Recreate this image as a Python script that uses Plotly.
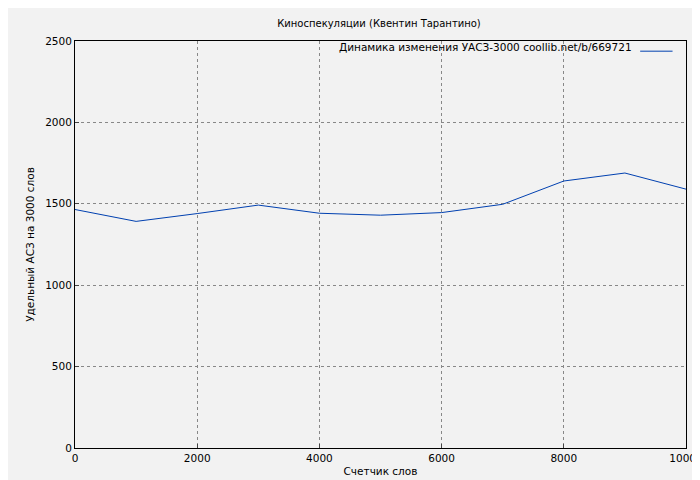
import plotly.graph_objects as go

x_words = [0, 1000, 2000, 3000, 4000, 5000, 6000, 7000, 8000, 9000, 10000]
y_uasz = [1465, 1392, 1440, 1492, 1442, 1430, 1446, 1497, 1640, 1689, 1590]
series_name = "Динамика изменения УАСЗ-3000 coollib.net/b/669721"

fig = go.Figure()
fig.add_trace(go.Scatter(x=x_words, y=y_uasz, mode="lines",
                         line=dict(color="#0040b0", width=1),
                         name=series_name, showlegend=False))
fig.update_layout(
    width=700, height=480,
    paper_bgcolor="#f2f2f2", plot_bgcolor="#f2f2f2",
    margin=dict(l=67, r=22, t=33, b=40, autoexpand=False),
    font=dict(family="DejaVu Sans", size=11, color="black"),
    title=dict(text="Киноспекуляции (Квентин Тарантино)", x=0.53, xanchor="center", y=0.975, font=dict(size=10)),
    showlegend=False,
)
fig.add_annotation(xref="paper", yref="paper", x=0.915, y=0.985, xanchor="right", yanchor="middle",
                   text=series_name, showarrow=False, font=dict(size=10.5))
fig.add_shape(type="line", xref="paper", yref="paper", x0=0.925, x1=0.978, y0=0.975, y1=0.975,
              line=dict(color="#0040b0", width=1))
axis_common = dict(showline=True, linecolor="black", mirror=True, ticks="inside", ticklen=4,
                   showgrid=True, gridcolor="#888888", griddash="dot", gridwidth=1, zeroline=False,
                   automargin=False, tickfont=dict(size=10.5))
fig.update_xaxes(range=[0, 10000], dtick=2000, tickformat="d", title=dict(text="Счетчик слов", standoff=5, font=dict(size=10.5)), **axis_common)
fig.update_yaxes(range=[0, 2500], dtick=500, tickformat="d", title=dict(text="Удельный АСЗ на 3000 слов", standoff=8, font=dict(size=10.5)), **axis_common)
fig.write_html("out.html")
